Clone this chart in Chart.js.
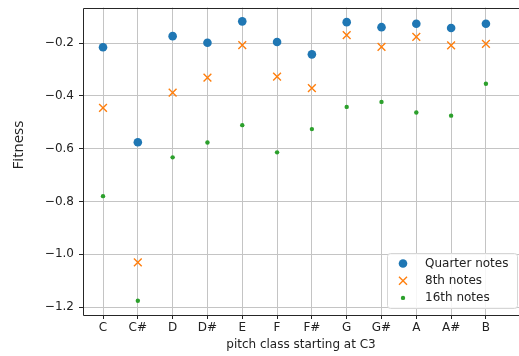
<!DOCTYPE html>
<html>
<head>
<meta charset="utf-8">
<style>
  html, body { margin: 0; padding: 0; background: #fff; overflow: hidden; }
  #wrap { width: 519px; height: 356px; position: relative; }
</style>
<script src="https://cdn.jsdelivr.net/npm/chart.js@4/dist/chart.umd.min.js"></script>
</head>
<body>
<div id="wrap"><canvas id="c"></canvas></div>
<script>
// Pitch classes along the x axis
const categories = ['C', 'C#', 'D', 'D#', 'E', 'F', 'F#', 'G', 'G#', 'A', 'A#', 'B'];

// Fitness per pitch class for each note duration
const quarterNotes = [-0.216, -0.576, -0.174, -0.199, -0.118, -0.196, -0.243, -0.121, -0.140, -0.127, -0.143, -0.127];
const eighthNotes  = [-0.446, -1.031, -0.388, -0.331, -0.208, -0.327, -0.371, -0.170, -0.215, -0.177, -0.209, -0.203];
const sixteenthNotes = [-0.780, -1.176, -0.633, -0.577, -0.511, -0.614, -0.526, -0.442, -0.423, -0.463, -0.475, -0.354];

const yTicks = [-1.2, -1.0, -0.8, -0.6, -0.4, -0.2];

const FONT = 'DejaVu Sans';

function toPoints(values) {
  return values.map((v, i) => ({ x: i, y: v }));
}

// Grid lines only on the category positions
function gridColor(ctx) {
  const t = ctx.tick;
  if (!t || t.value < 0 || t.value > categories.length - 1) return 'rgba(0,0,0,0)';
  return '#c4c4c4';
}

// Draws the top/left/bottom frame, the rotated y label and the boxed legend
const framePlugin = {
  id: 'frame',
  afterDatasetsDraw(chart) {
    const { ctx, chartArea: a } = chart;
    ctx.save();
    ctx.strokeStyle = '#262626';
    ctx.lineWidth = 1;
    ctx.beginPath();
    ctx.moveTo(a.right + 2, Math.round(a.top) + 0.5);
    ctx.lineTo(a.left + 0.5, Math.round(a.top) + 0.5);
    ctx.lineTo(a.left + 0.5, Math.round(a.bottom) + 0.5);
    ctx.lineTo(a.right + 2, Math.round(a.bottom) + 0.5);
    ctx.stroke();

    // y axis label
    ctx.translate(18.5, 145);
    ctx.rotate(-Math.PI / 2);
    ctx.fillStyle = '#222';
    ctx.font = '15px "Open Sans"';
    ctx.textAlign = 'center';
    ctx.textBaseline = 'middle';
    ctx.fillText('Fitness', 0, 0);
    ctx.restore();

    // legend box
    const bx = 387, by = 253, bw = 130, bh = 55;
    ctx.save();
    ctx.fillStyle = 'rgba(255,255,255,0.85)';
    ctx.strokeStyle = '#d6d6d6';
    ctx.lineWidth = 1;
    ctx.beginPath();
    ctx.roundRect(bx + 0.5, by + 0.5, bw, bh, 3);
    ctx.fill();
    ctx.stroke();
    ctx.font = '12px "' + FONT + '"';
    ctx.textBaseline = 'middle';
    ctx.textAlign = 'left';
    chart.data.datasets.forEach((ds, i) => {
      const cy = 263.5 + i * 17.2;
      const cx = 403;
      ctx.fillStyle = ds.backgroundColor;
      ctx.strokeStyle = ds.borderColor;
      if (ds.pointStyle === 'crossRot') {
        const r = 4;
        ctx.lineWidth = 1.4;
        ctx.beginPath();
        ctx.moveTo(cx - r, cy - r); ctx.lineTo(cx + r, cy + r);
        ctx.moveTo(cx - r, cy + r); ctx.lineTo(cx + r, cy - r);
        ctx.stroke();
      } else {
        ctx.beginPath();
        ctx.arc(cx, cy, ds.pointRadius, 0, Math.PI * 2);
        ctx.fill();
      }
      ctx.fillStyle = '#222';
      ctx.fillText(ds.label, 425, cy);
    });
    ctx.restore();
  }
};

new Chart(document.getElementById('c'), {
  type: 'scatter',
  data: {
    datasets: [
      {
        label: 'Quarter notes',
        data: toPoints(quarterNotes),
        pointStyle: 'circle',
        pointRadius: 4.3,
        backgroundColor: '#1f77b4',
        borderColor: '#1f77b4',
        borderWidth: 0
      },
      {
        label: '8th notes',
        data: toPoints(eighthNotes),
        pointStyle: 'crossRot',
        pointRadius: 5.5,
        backgroundColor: '#ff7f0e',
        borderColor: '#ff7f0e',
        borderWidth: 1.4
      },
      {
        label: '16th notes',
        data: toPoints(sixteenthNotes),
        pointStyle: 'circle',
        pointRadius: 2.2,
        backgroundColor: '#2ca02c',
        borderColor: '#2ca02c',
        borderWidth: 0
      }
    ]
  },
  options: {
    responsive: true,
    maintainAspectRatio: false,
    animation: false,
    events: [],
    layout: { autoPadding: false, padding: { top: 7.5, right: 0, bottom: 0, left: 0 } },
    plugins: {
      legend: { display: false },
      tooltip: { enabled: false }
    },
    scales: {
      x: {
        type: 'linear',
        min: -0.575,
        max: 11.95,
        afterBuildTicks(scale) {
          scale.ticks = categories.map((_, i) => ({ value: i }));
        },
        ticks: {
          autoSkip: false,
          maxRotation: 0,
          padding: 2,
          color: '#222',
          font: { family: FONT, size: 12 },
          callback: (v) => categories[v]
        },
        grid: {
          color: gridColor,
          lineWidth: 1,
          tickLength: 4,
          tickColor: '#262626',
          drawTicks: true
        },
        border: { display: false },
        title: {
          display: true,
          text: 'pitch class starting at C3',
          color: '#222',
          font: { family: FONT, size: 12 },
          padding: { top: 0, bottom: 4.2 }
        }
      },
      y: {
        min: -1.230,
        max: -0.0655,
        afterBuildTicks(scale) {
          scale.ticks = yTicks.map(v => ({ value: v }));
        },
        afterFit(scale) {
          scale.width = 83;
          scale.paddingTop = 0;
          scale.paddingBottom = 0;
        },
        ticks: {
          padding: 5,
          color: '#222',
          font: { family: FONT, size: 12 },
          callback: (v) => v.toFixed(1).replace('-', '\u2212')
        },
        grid: {
          color: '#c4c4c4',
          lineWidth: 1,
          tickLength: 4,
          tickColor: '#262626',
          drawTicks: true
        },
        border: { display: false }
      }
    }
  },
  plugins: [framePlugin]
});
</script>
</body>
</html>
